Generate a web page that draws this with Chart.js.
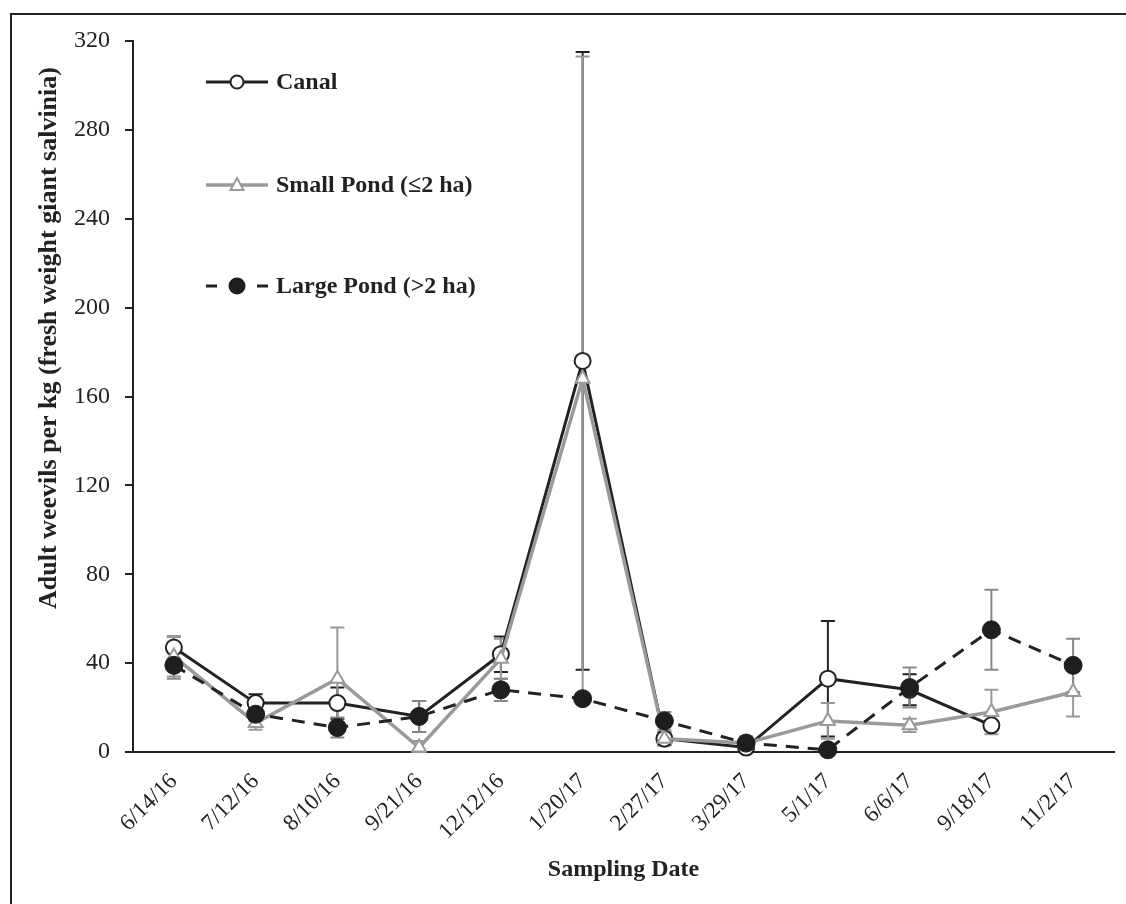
<!DOCTYPE html>
<html>
<head>
<meta charset="utf-8">
<script src="https://cdn.jsdelivr.net/npm/chart.js@4.4.1/dist/chart.umd.min.js"></script>
<style>
  html, body { margin: 0; padding: 0; background: #fff; }
  #wrap { position: relative; width: 1126px; height: 904px; }
  #frame { position: absolute; left: 10px; top: 13px; right: -5px; bottom: -5px;
           border-left: 2px solid #222; border-top: 2px solid #222; pointer-events: none; }
</style>
</head>
<body>
<div id="wrap">
  <canvas id="weevilChart"></canvas>
  <div id="frame"></div>
</div>
<script>
// tanggal sampling
const dates = ['6/14/16', '7/12/16', '8/10/16', '9/21/16', '12/12/16', '1/20/17',
               '2/27/17', '3/29/17', '5/1/17', '6/6/17', '9/18/17', '11/2/17'];

// rata-rata per lokasi
const canal     = [47, 22, 22, 16, 44, 176, 6, 2, 33, 28, 12, null];
const smallPond = [43, 13, 33, 2, 42, 168, 6, 4, 14, 12, 18, 27];
const largePond = [39, 17, 11, 16, 28, 24, 14, 4, 1, 29, 55, 39];

// galat baku
const canalErr     = [5, 4, 7, 7, 8, 139, 3, 2, 26, 7, 2, null];
const smallPondErr = [9, 3, 23, 3, 9, 145, 3, 2, 8, 3, 10, 11];
const largePondErr = [6, 3, 4.5, 7, 5, 2, 4, 3, 2, 9, 18, 12];

const yTicks = [0, 40, 80, 120, 160, 200, 240, 280, 320];

const yTitle = 'Adult weevils per kg (fresh weight giant salvinia)';

const serif = '"Liberation Serif", "Times New Roman", serif';
const ink = '#222';

// garis galat digambar sebelum garis data
const errorBars = {
    id: 'errorBars',
    beforeDatasetsDraw(chart) {
        const ctx = chart.ctx;
        const y = chart.scales.y;
        chart.data.datasets.forEach((ds, di) => {
            const meta = chart.getDatasetMeta(di);
            ctx.save();
            ctx.strokeStyle = ds.errColor;
            ctx.lineWidth = 2;
            ds.data.forEach((v, i) => {
                const e = ds.errors[i];
                if (v === null || e === null) return;
                const x = meta.data[i].x;
                const top = y.getPixelForValue(v + e);
                const bot = y.getPixelForValue(Math.max(0, v - e));
                ctx.beginPath();
                ctx.moveTo(x, top); ctx.lineTo(x, bot);
                ctx.moveTo(x - 7, top); ctx.lineTo(x + 7, top);
                ctx.moveTo(x - 7, bot); ctx.lineTo(x + 7, bot);
                ctx.stroke();
            });
            ctx.restore();
        });
    }
};

// legenda di dalam area grafik + judul sumbu Y
const innerLegend = {
    id: 'innerLegend',
    afterDraw(chart) {
        const ctx = chart.ctx;
        const rows = [82, 185, 286];
        const x0 = 206, x1 = 268, xm = 237;
        chart.data.datasets.forEach((ds, i) => {
            const yy = rows[i];
            ctx.save();
            ctx.strokeStyle = ds.borderColor;
            ctx.lineWidth = ds.borderWidth;
            ctx.beginPath();
            if (ds.borderDash) {
                ctx.moveTo(x0, yy); ctx.lineTo(x0 + 11, yy);
                ctx.moveTo(x1 - 11, yy); ctx.lineTo(x1, yy);
            } else {
                ctx.moveTo(x0, yy); ctx.lineTo(x1, yy);
            }
            ctx.stroke();
            ctx.lineWidth = 2;
            ctx.fillStyle = ds.pointBackgroundColor;
            ctx.strokeStyle = ds.pointBorderColor;
            ctx.beginPath();
            if (ds.pointStyle === 'triangle') {
                ctx.moveTo(xm, yy - 7);
                ctx.lineTo(xm + 6.5, yy + 5);
                ctx.lineTo(xm - 6.5, yy + 5);
                ctx.closePath();
            } else {
                ctx.arc(xm, yy, ds.borderDash ? 7.5 : 6.5, 0, Math.PI * 2);
            }
            ctx.fill();
            ctx.stroke();
            ctx.fillStyle = ink;
            ctx.font = 'bold 24px ' + serif;
            ctx.textBaseline = 'middle';
            ctx.fillText(ds.label, 276, yy + 1);
            ctx.restore();
        });

        ctx.save();
        ctx.translate(49, 338);
        ctx.rotate(-Math.PI / 2);
        ctx.fillStyle = ink;
        ctx.font = 'bold 26px ' + serif;
        ctx.textAlign = 'center';
        ctx.textBaseline = 'middle';
        ctx.fillText(yTitle, 0, 0);
        ctx.restore();
    }
};

new Chart(document.getElementById('weevilChart').getContext('2d'), {
    type: 'line',
    data: {
        labels: dates,
        datasets: [
            {
                label: 'Canal',
                data: canal,
                errors: canalErr,
                errColor: '#222',
                borderColor: '#222',
                borderWidth: 3,
                pointStyle: 'circle',
                pointRadius: 8,
                pointBorderWidth: 2,
                pointBackgroundColor: '#fff',
                pointBorderColor: '#222',
                order: 2,
                clip: false
            },
            {
                label: 'Small Pond (\u22642 ha)',
                data: smallPond,
                errors: smallPondErr,
                errColor: '#999',
                borderColor: '#9a9a9a',
                borderWidth: 3.5,
                pointStyle: 'triangle',
                pointRadius: 8,
                pointBorderWidth: 2,
                pointBackgroundColor: '#fff',
                pointBorderColor: '#9a9a9a',
                order: 1,
                clip: false
            },
            {
                label: 'Large Pond (>2 ha)',
                data: largePond,
                errors: largePondErr,
                errColor: '#888',
                borderColor: '#222',
                borderWidth: 3,
                borderDash: [13, 9],
                pointStyle: 'circle',
                pointRadius: 9,
                pointBorderWidth: 1,
                pointBackgroundColor: '#1e1e1e',
                pointBorderColor: '#1e1e1e',
                order: 0,
                clip: false
            }
        ]
    },
    options: {
        responsive: true,
        maintainAspectRatio: false,
        animation: false,
        layout: { padding: { left: 0, right: 12, top: 41, bottom: 0 } },
        plugins: {
            legend: { display: false },
            tooltip: { enabled: false }
        },
        elements: { line: { tension: 0 } },
        scales: {
            x: {
                offset: true,
                grid: { display: false },
                border: { display: true, color: ink, width: 2 },
                afterFit: (s) => { s.height = 152; },
                ticks: {
                    color: ink,
                    maxRotation: 45,
                    minRotation: 45,
                    padding: 8,
                    font: { family: serif, size: 23 }
                },
                title: {
                    display: true,
                    text: 'Sampling Date',
                    color: ink,
                    padding: { top: 0, bottom: 20 },
                    font: { family: serif, size: 24, weight: 'bold' }
                }
            },
            y: {
                min: 0,
                max: 320,
                afterFit: (s) => { s.width = 133; },
                afterBuildTicks: (s) => { s.ticks = yTicks.map(v => ({ value: v })); },
                grid: { display: true, drawOnChartArea: false, drawTicks: true, tickLength: 8, color: ink, lineWidth: 2 },
                border: { display: true, color: ink, width: 2 },
                ticks: {
                    color: ink,
                    padding: 15,
                    font: { family: serif, size: 24 }
                },
                title: { display: false }
            }
        }
    },
    plugins: [errorBars, innerLegend]
});
</script>
</body>
</html>
